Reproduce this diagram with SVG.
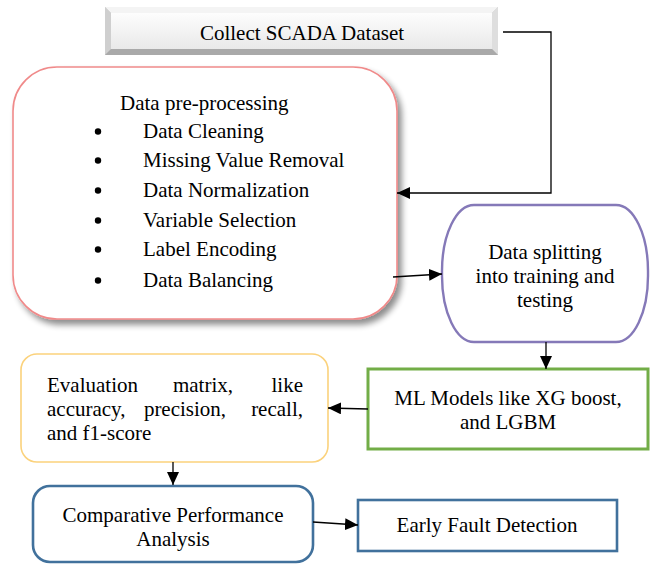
<svg xmlns="http://www.w3.org/2000/svg" width="652" height="564" viewBox="0 0 652 564">
<style>
text{font-family:"Liberation Serif","Times New Roman",serif;font-size:21px;fill:#000}
.c{text-anchor:middle}
.e{text-anchor:end}
.conn{fill:none;stroke:#000;stroke-width:1.3}
</style>
<defs>
<marker id="ah" markerUnits="userSpaceOnUse" markerWidth="14" markerHeight="12" refX="13" refY="6" orient="auto">
<path d="M0,0 L13,6 L0,12 Z" fill="#000"/>
</marker>
<linearGradient id="face" x1="0" y1="0" x2="0" y2="1">
<stop offset="0" stop-color="#fdfdfd"/>
<stop offset="1" stop-color="#e9e9e9"/>
</linearGradient>
<filter id="sh" x="-10%" y="-10%" width="125%" height="125%">
<feGaussianBlur in="SourceAlpha" stdDeviation="3"/>
<feOffset dx="4" dy="5" result="b"/>
<feComponentTransfer><feFuncA type="linear" slope="0.45"/></feComponentTransfer>
<feMerge><feMergeNode/><feMergeNode in="SourceGraphic"/></feMerge>
</filter>
</defs>
<rect width="652" height="564" fill="#fff"/>

<g id="collect">
<rect x="105" y="7" width="393" height="48" fill="#c9c9c9"/>
<polygon points="105,7 498,7 492,13 111,13" fill="#f4f4f4"/>
<polygon points="105,7 111,13 111,49 105,55" fill="#cfcfcf"/>
<polygon points="498,7 498,55 492,49 492,13" fill="#dedede"/>
<polygon points="105,55 111,49 492,49 498,55" fill="#a9a9a9"/>
<rect x="111" y="13" width="381" height="36" fill="url(#face)"/>
<text class="c" x="302" y="40">Collect SCADA Dataset</text>
</g>

<g id="preprocessing">
<rect x="13" y="67" width="384" height="252" rx="44" ry="44" fill="#fff" stroke="#f08a8a" stroke-width="1.6" filter="url(#sh)"/>
<text x="120" y="110">Data pre-processing</text>
<g fill="#000">
<circle cx="98" cy="131.5" r="3.2"/>
<circle cx="98" cy="160.5" r="3.2"/>
<circle cx="98" cy="190.5" r="3.2"/>
<circle cx="98" cy="220.5" r="3.2"/>
<circle cx="98" cy="249.5" r="3.2"/>
<circle cx="98" cy="280.5" r="3.2"/>
</g>
<text x="143" y="138">Data Cleaning</text>
<text x="143" y="167">Missing Value Removal</text>
<text x="143" y="197">Data Normalization</text>
<text x="143" y="227">Variable Selection</text>
<text x="143" y="256">Label Encoding</text>
<text x="143" y="287">Data Balancing</text>
</g>

<g id="splitting">
<rect x="442" y="205" width="206" height="137" rx="32" ry="66" fill="#fff" stroke="#8579b8" stroke-width="2.4"/>
<text class="c" x="545" y="259">Data splitting</text>
<text class="c" x="545" y="283">into training and</text>
<text class="c" x="545" y="307">testing</text>
</g>

<g id="mlmodels">
<rect x="368" y="369" width="280" height="80" fill="#fff" stroke="#72ad47" stroke-width="3"/>
<text class="c" x="508" y="405">ML Models like XG boost,</text>
<text class="c" x="508" y="429">and LGBM</text>
</g>

<g id="evaluation">
<rect x="21" y="354" width="307" height="108" rx="16" ry="16" fill="#fff" stroke="#fbd27c" stroke-width="1.6"/>
<text x="47" y="392">Evaluation</text>
<text class="c" x="203" y="392">matrix,</text>
<text class="e" x="303" y="392">like</text>
<text x="47" y="416">accuracy,</text>
<text class="c" x="185" y="416">precision,</text>
<text class="e" x="303" y="416">recall,</text>
<text x="47" y="440">and f1-score</text>
</g>

<g id="comparative">
<rect x="33" y="486" width="280" height="76" rx="17" ry="17" fill="#fff" stroke="#41719c" stroke-width="2.6"/>
<text class="c" x="173" y="522">Comparative Performance</text>
<text class="c" x="173" y="546">Analysis</text>
</g>

<g id="earlyfault">
<rect x="358" y="500" width="259" height="51" fill="#fff" stroke="#41719c" stroke-width="2.6"/>
<text class="c" x="487" y="532">Early Fault Detection</text>
</g>

<g id="connectors">
<polyline class="conn" points="503,32 551,32 551,193 397,193" marker-end="url(#ah)"/>
<line class="conn" x1="393" y1="277" x2="442" y2="274" marker-end="url(#ah)"/>
<line class="conn" x1="546" y1="342" x2="546" y2="369" marker-end="url(#ah)"/>
<line class="conn" x1="368" y1="409" x2="328" y2="408" marker-end="url(#ah)"/>
<line class="conn" x1="173" y1="462" x2="173" y2="485" marker-end="url(#ah)"/>
<line class="conn" x1="313" y1="522" x2="358" y2="525" marker-end="url(#ah)"/>
</g>
</svg>
